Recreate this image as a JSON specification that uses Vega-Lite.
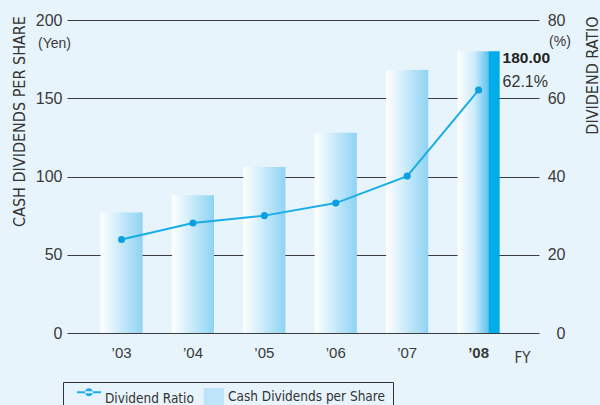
{
  "$schema": "https://vega.github.io/schema/vega-lite/v6.json",
  "width": 472,
  "height": 313,
  "autosize": {"type": "none"},
  "padding": {"left": 67, "top": 20, "right": 61, "bottom": 72},
  "background": "#e8f4fc",
  "config": {
    "view": {"stroke": null},
    "font": "Liberation Sans"
  },
  "datasets": {
    "dividends": [
      {"fy": "’03", "dps": 77, "ratio": 23.9},
      {"fy": "’04", "dps": 88, "ratio": 28.1},
      {"fy": "’05", "dps": 106, "ratio": 30.0},
      {"fy": "’06", "dps": 128, "ratio": 33.2},
      {"fy": "’07", "dps": 168, "ratio": 40.1},
      {"fy": "’08", "dps": 180, "ratio": 62.1}
    ],
    "legendKeys": [
      {"series": "Dividend Ratio"},
      {"series": "Cash Dividends per Share"}
    ]
  },
  "data": {"name": "dividends"},
  "layer": [
    {
      "transform": [{"filter": "datum.fy !== '’08'"}],
      "mark": {
        "type": "bar",
        "color": {
          "gradient": "linear", "x1": 0, "y1": 0, "x2": 1, "y2": 0,
          "stops": [
            {"offset": 0, "color": "#ffffff"},
            {"offset": 1, "color": "#8ed3f3"}
          ]
        }
      },
      "encoding": {
        "x": {
          "field": "fy", "type": "nominal", "sort": null,
          "scale": {"paddingInner": 0.41, "paddingOuter": 0.51, "align": 0.46},
          "axis": {
            "domain": false, "ticks": false, "tickSize": 0, "grid": false,
            "labelAngle": 0, "labelPadding": 12, "labelFontSize": 15,
            "labelColor": "#3a3a3a",
            "labelFontWeight": {"condition": {"test": "datum.value === '’08'", "value": "bold"}, "value": "normal"},
            "title": "FY", "titleFont": "DejaVu Sans Condensed, Liberation Sans", "titleFontSize": 15,
            "titleFontWeight": "normal", "titleColor": "#3a3a3a",
            "titleX": 455, "titleY": 24, "titleAlign": "center", "titleBaseline": "middle"
          }
        },
        "y": {
          "field": "dps", "type": "quantitative",
          "scale": {"domain": [0, 200], "nice": false},
          "axis": {
            "orient": "left", "values": [0, 50, 100, 150, 200],
            "grid": true, "gridColor": "#3c3c3c", "gridOpacity": 1, "gridWidth": 1,
            "domain": false, "ticks": false, "tickSize": 0,
            "labelPadding": 5, "labelFontSize": 16, "labelColor": "#3a3a3a",
            "title": "CASH DIVIDENDS PER SHARE",
            "titleFont": "DejaVu Sans Condensed, Liberation Sans", "titleFontSize": 16,
            "titleFontWeight": "normal", "titleColor": "#333333",
            "titleAngle": 270, "titleX": -48, "titleY": 101,
            "titleAlign": "center", "titleBaseline": "middle"
          }
        }
      }
    },
    {
      "transform": [{"filter": "datum.fy === '’08'"}],
      "mark": {
        "type": "bar",
        "color": {
          "gradient": "linear", "x1": 0, "y1": 0, "x2": 1, "y2": 0,
          "stops": [
            {"offset": 0, "color": "#ffffff"},
            {"offset": 0.4, "color": "#cdebfa"},
            {"offset": 0.72, "color": "#64c5f0"},
            {"offset": 0.76, "color": "#04adea"},
            {"offset": 1, "color": "#00abe8"}
          ]
        }
      },
      "encoding": {
        "x": {"field": "fy", "type": "nominal", "sort": null},
        "y": {"field": "dps", "type": "quantitative", "scale": {"domain": [0, 200], "nice": false}, "axis": null}
      }
    },
    {
      "transform": [{"filter": "datum.fy === '’08'"}],
      "mark": {
        "type": "text", "align": "left", "baseline": "middle",
        "dx": 24, "dy": 7, "fontSize": 15.5, "fontWeight": "bold", "color": "#222222"
      },
      "encoding": {
        "x": {"field": "fy", "type": "nominal", "sort": null},
        "y": {
          "field": "dps", "type": "quantitative",
          "scale": {"domain": [0, 200], "nice": false},
          "axis": {
            "orient": "left", "labels": false, "ticks": false, "domain": false, "grid": false,
            "title": "(Yen)", "titleFontSize": 14, "titleFontWeight": "normal",
            "titleColor": "#3a3a3a", "titleAngle": 0, "titleX": -13, "titleY": 23,
            "titleAlign": "center", "titleBaseline": "middle"
          }
        },
        "text": {"field": "dps", "type": "quantitative", "format": ".2f"}
      }
    },
    {
      "mark": {"type": "line", "color": "#19ade8", "strokeWidth": 2},
      "encoding": {
        "x": {"field": "fy", "type": "nominal", "sort": null},
        "y": {
          "field": "ratio", "type": "quantitative",
          "scale": {"domain": [0, 80], "nice": false},
          "axis": {
            "orient": "right", "values": [0, 20, 40, 60, 80],
            "grid": false, "domain": false, "ticks": false, "tickSize": 0,
            "labelAlign": "right", "labelPadding": 26, "labelFontSize": 16,
            "labelColor": "#3a3a3a",
            "title": "DIVIDEND RATIO",
            "titleFont": "DejaVu Sans Condensed, Liberation Sans", "titleFontSize": 16,
            "titleFontWeight": "normal", "titleColor": "#333333",
            "titleAngle": 270, "titleX": 53, "titleY": 55,
            "titleAlign": "center", "titleBaseline": "middle"
          }
        }
      }
    },
    {
      "mark": {"type": "point", "filled": true, "opacity": 1, "size": 50, "color": "#0a9fe2"},
      "encoding": {
        "x": {"field": "fy", "type": "nominal", "sort": null},
        "y": {"field": "ratio", "type": "quantitative", "scale": {"domain": [0, 80], "nice": false}, "axis": null}
      }
    },
    {
      "transform": [
        {"filter": "datum.fy === '’08'"},
        {"calculate": "format(datum.ratio, '.1f') + '%'", "as": "ratioLabel"}
      ],
      "mark": {
        "type": "text", "align": "left", "baseline": "middle",
        "dx": 24, "dy": -8, "fontSize": 16, "color": "#333333"
      },
      "encoding": {
        "x": {"field": "fy", "type": "nominal", "sort": null},
        "y": {
          "field": "ratio", "type": "quantitative",
          "scale": {"domain": [0, 80], "nice": false},
          "axis": {
            "orient": "right", "labels": false, "ticks": false, "domain": false, "grid": false,
            "title": "(%)", "titleFontSize": 14, "titleFontWeight": "normal",
            "titleColor": "#3a3a3a", "titleAngle": 0, "titleX": 20.5, "titleY": 21.5,
            "titleAlign": "center", "titleBaseline": "middle"
          }
        },
        "text": {"field": "ratioLabel", "type": "nominal"}
      }
    },
    {
      "data": {"name": "legendKeys"},
      "mark": {"type": "point", "filled": true, "opacity": 0},
      "encoding": {
        "color": {
          "field": "series", "type": "nominal",
          "scale": {
            "domain": ["Dividend Ratio", "Cash Dividends per Share"],
            "range": ["#19ade8", "#bde4f8"]
          },
          "legend": {
            "title": null, "orient": "none", "legendX": -4, "legendY": 362,
            "direction": "horizontal", "symbolSize": 196, "symbolStrokeWidth": 0,
            "labelFont": "DejaVu Sans Condensed, Liberation Sans", "labelFontSize": 13.5,
            "labelColor": "#333333", "labelOffset": 20, "labelLimit": 0,
            "columnPadding": -4, "padding": 8,
            "strokeColor": "#333333", "fillColor": "#e8f4fc",
            "encode": {"symbols": {"update": {"opacity": {"value": 1}}}}
          }
        },
        "shape": {
          "field": "series", "type": "nominal",
          "scale": {
            "domain": ["Dividend Ratio", "Cash Dividends per Share"],
            "range": [
              "M-0.14,-1.14H3.29V-0.86H-0.14Z M1,-1A0.57,0.57 0 1,0 2.14,-1A0.57,0.57 0 1,0 1,-1Z",
              "M0.39,-1.29H3.29V1.57H0.39Z"
            ]
          }
        }
      }
    }
  ],
  "resolve": {"scale": {"y": "independent"}}
}
